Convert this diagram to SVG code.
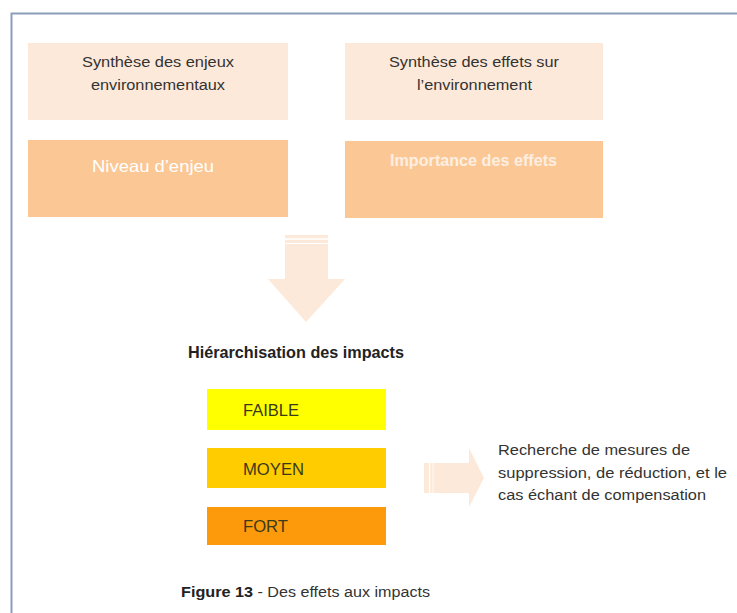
<svg xmlns="http://www.w3.org/2000/svg" width="737" height="613" viewBox="0 0 737 613">
<style>
.t{font-family:"Liberation Sans",Arial,sans-serif;font-size:15.5px;fill:#333}
.tb{font-family:"Liberation Sans",Arial,sans-serif;font-size:16px;font-weight:bold;fill:#222}
.light{fill:#fde9d9}
.dark{fill:#fbc895}
.arrow{fill:#fde9d9}
.lvl{font-family:"Liberation Sans",Arial,sans-serif;font-size:16px;fill:#3a3a1a}
</style>
<rect width="737" height="613" fill="#ffffff"/>
<path d="M11.5,613 V13.5 H737" fill="none" stroke="#8c9dba" stroke-width="2"/>
<g id="enjeux">
<rect class="light" x="28" y="43" width="260" height="77"/>
<text class="t" x="82" y="67" textLength="152" lengthAdjust="spacingAndGlyphs">Synthèse des enjeux</text>
<text class="t" x="91" y="90" textLength="134" lengthAdjust="spacingAndGlyphs">environnementaux</text>
</g>
<g id="effets">
<rect class="light" x="345" y="43" width="258" height="77"/>
<text class="t" x="389" y="67" textLength="170" lengthAdjust="spacingAndGlyphs">Synthèse des effets sur</text>
<text class="t" x="417" y="90" textLength="115" lengthAdjust="spacingAndGlyphs">l’environnement</text>
</g>
<g id="niveau">
<rect class="dark" x="28" y="140" width="260" height="77"/>
<text x="92" y="172" font-family="'Liberation Sans',Arial,sans-serif" font-size="16.5" fill="#ffffff" textLength="122" lengthAdjust="spacingAndGlyphs">Niveau d’enjeu</text>
</g>
<g id="importance">
<rect class="dark" x="345" y="141" width="258" height="77"/>
<text x="390" y="166" font-family="'Liberation Sans',Arial,sans-serif" font-size="16" font-weight="bold" fill="#fdeee2" textLength="167" lengthAdjust="spacingAndGlyphs">Importance des effets</text>
</g>
<g id="connectors">
<g id="arrow-down">
<path class="arrow" d="M285,235 H328 V279 H345 L306,322 L268,279 H285 Z"/>
<line x1="285" y1="239" x2="328" y2="239" stroke="#ffffff" stroke-width="1.5"/>
<line x1="285" y1="243.5" x2="328" y2="243.5" stroke="#ffffff" stroke-width="1"/>
</g>
<g id="arrow-right">
<path class="arrow" d="M424,463 H469 V448 L484,478 L469,507 V493 H424 Z"/>
<line x1="429.5" y1="463" x2="429.5" y2="493" stroke="#ffffff" stroke-width="1.2"/>
<line x1="433" y1="463" x2="433" y2="493" stroke="#ffffff" stroke-width="0.8"/>
</g>
</g>
<g id="hierarchisation">
<text class="tb" x="188" y="358" textLength="216" lengthAdjust="spacingAndGlyphs">Hiérarchisation des impacts</text>
</g>
<g id="faible">
<rect x="207" y="389" width="179" height="41" fill="#ffff00"/>
<text class="lvl" x="243" y="416" textLength="56" lengthAdjust="spacingAndGlyphs">FAIBLE</text>
</g>
<g id="moyen">
<rect x="207" y="448" width="179" height="40" fill="#ffcc00"/>
<text class="lvl" x="243" y="475" textLength="61" lengthAdjust="spacingAndGlyphs">MOYEN</text>
</g>
<g id="fort">
<rect x="207" y="507" width="179" height="38" fill="#fd9a0c"/>
<text class="lvl" x="243" y="532" textLength="45" lengthAdjust="spacingAndGlyphs">FORT</text>
</g>
<g id="mesures">
<text class="t" x="498" y="455" textLength="192" lengthAdjust="spacingAndGlyphs">Recherche de mesures de</text>
<text class="t" x="498" y="478" textLength="229" lengthAdjust="spacingAndGlyphs">suppression, de réduction, et le</text>
<text class="t" x="498" y="500" textLength="208" lengthAdjust="spacingAndGlyphs">cas échant de compensation</text>
</g>
<g id="caption">
<text x="181" y="597" font-family="'Liberation Sans',Arial,sans-serif" font-size="15.5" fill="#333"><tspan font-weight="bold" fill="#222" textLength="72" lengthAdjust="spacingAndGlyphs">Figure 13</tspan><tspan x="253" textLength="177" lengthAdjust="spacingAndGlyphs"> - Des effets aux impacts</tspan></text>
</g>
</svg>
